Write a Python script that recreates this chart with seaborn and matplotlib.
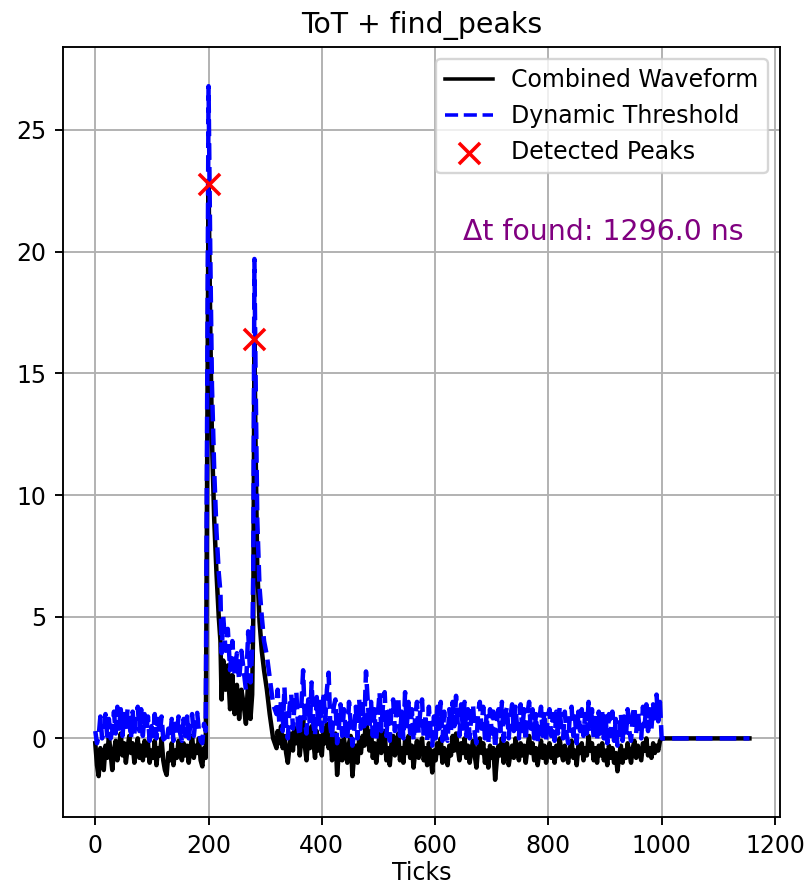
import numpy as np
import pandas as pd
import matplotlib
matplotlib.use("Agg")
import matplotlib.pyplot as plt
import seaborn as sns

# ---------------- data ----------------
pre_ticks = list(range(0, 198, 3))
pre_wave = [-0.2, -1.1, -1.55, -0.4, -0.9, -1.3, -0.3, -0.8, 0.1, -0.6,
            -1.3, -0.5, -0.1, -0.9, -0.3, 0.2, -0.7, -0.2, -1.0, -0.4,
            0.1, -0.6, -0.2, -1.0, -0.5, 0.0, -0.8, -0.3, -0.9, -0.1,
            -0.7, -0.2, -1.0, -0.5, -0.8, -0.1, -1.1, -0.4, -0.7, 0.0,
            -0.9, -1.3, -1.5, -0.6, -0.9, -0.2, -1.1, -0.5, -0.8, -0.1,
            -0.6, -0.9, -0.2, -0.7, -0.3, -1.0, -0.4, 0.1, -0.8, -0.3,
            -0.6, 0.0, -0.9, -1.15, -0.4, -0.8]
pre_thr = [0.3, -0.2, 0.1, 0.9, 0.0, 0.4, 1.0, 0.1, 0.8, 0.0,
           0.3, 1.1, 0.2, 1.3, 0.4, 1.2, 0.1, 1.0, 0.3, 1.2,
           0.8, 0.0, 1.1, 0.2, 0.9, 1.3, 0.3, 1.2, 0.1, 1.0,
           0.3, 0.9, -0.1, 0.5, 0.1, 1.0, 0.0, 0.8, 0.2, 0.9,
           0.0, -0.1, -0.2, 0.4, 0.0, 0.8, -0.1, 0.6, 0.1, 0.9,
           0.2, -0.1, 0.8, 0.1, 0.9, 0.0, 0.6, 1.0, 0.1, 0.8,
           1.05, 0.3, -0.1, -0.2, 0.6, 0.3]

pulse_ticks = [200, 203, 206, 210, 214, 218, 221, 223, 226, 230, 234, 238, 242, 246,
               250, 254, 258, 262, 266, 270, 274, 277, 279, 281, 283, 286, 290, 294,
               298, 303, 308, 314, 320]
pulse_wave = [22.8, 17.0, 12.3, 9.0, 6.8, 5.0, 4.0, 1.6, 3.2, 2.0,
              3.0, 1.2, 2.6, 1.0, 2.2, 0.8, 2.0, 1.4, 0.6, 2.4,
              0.8, 1.8, 5.0, 16.4, 12.0, 7.0, 4.8, 3.6, 2.8, 2.0,
              1.0, 0.0, -0.4]
pulse_thr = [26.8, 20.0, 14.5, 11.0, 8.5, 6.8, 6.0, 3.5, 5.0, 3.6,
             4.5, 2.8, 4.0, 2.6, 3.5, 2.4, 3.6, 2.8, 2.0, 4.4,
             2.3, 3.6, 7.0, 19.7, 15.0, 9.0, 6.2, 5.0, 4.0, 3.4,
             2.5, 1.4, 1.0]

post_ticks = list(range(322, 1001, 3))
post_wave = [0.3, -0.2, 0.5, -0.4, 0.1, -0.6, -1.0, -0.3, 0.2, -0.5,
             0.4, -0.2, 0.6, -0.7, 0.0, 0.8, -0.3, -0.9, 0.2, -0.4,
             0.5, -0.1, -0.8, 0.3, -0.5, 0.1, -0.7, 0.4, -0.2, 0.6,
             -0.4, 0.1, -0.9, -0.3, 0.2, -1.5, -0.6, -0.1, -0.9, 0.0,
             -0.5, -1.0, -0.2, 0.1, -1.55, -0.7, -0.3, -1.0, 0.0, -0.6,
             0.1, -0.3, 0.9, 0.2, -0.5, 0.3, -0.8, -0.2, -1.0, -0.4,
             0.2, -0.6, -0.1, 0.3, -0.9, -0.4, -1.1, -0.2, 0.1, -0.7,
             -0.3, 0.2, -0.9, -0.4, -1.0, -0.1, -0.6, 0.1, -0.8, -0.3,
             -1.2, -0.5, -0.1, -0.8, -0.3, 0.0, -0.9, -0.4, -1.1, -0.2,
             -0.7, -1.4, -0.5, -0.9, -0.2, -0.6, 0.0, -1.0, -0.4, -0.8,
             -1.1, -0.3, -0.7, 0.1, -0.5, 0.2, -0.4, -0.9, -0.2, -0.6,
             0.0, -0.8, -0.3, -1.0, -0.5, -0.1, -0.7, -1.2, -0.4, 0.0,
             -0.6, -0.2, -1.0, -0.5, -1.2, -0.3, -0.8, -0.4, -1.7, -0.9,
             -0.3, -0.7, 0.0, -1.0, -0.5, -0.2, -1.1, -0.6, -0.3, -0.8,
             0.0, -0.5, -0.9, -0.2, -0.7, -0.3, -1.0, -0.4, 0.1, -0.6,
             -0.2, -0.9, -0.4, -1.1, -0.6, -0.1, -0.8, -0.3, -1.0, -0.5,
             -0.2, -0.8, -0.4, -1.0, -0.3, -0.7, 0.0, -0.6, -0.9, -0.3,
             -0.7, -1.0, -0.4, -0.1, -0.8, -0.5, -1.1, -0.3, -0.6, -0.2,
             -0.9, -0.4, -0.7, 0.1, -0.5, -0.2, -0.9, -0.4, -1.0, -0.3,
             -0.7, -0.2, -0.9, -0.5, -1.1, -0.3, -0.8, -0.4, -1.0, -0.6,
             -1.35, -0.7, -0.3, -1.0, -0.5, -0.8, -0.2, -0.6, -1.0, -0.4,
             -0.1, -0.8, -0.3, -0.6, -0.9, -0.2, -0.5, 0.0, -0.7, -0.4,
             -0.8, -0.2, -0.6, -0.3, -0.5, -0.1, 0.0]
post_thr = [2.0, 0.6, 1.6, 0.3, 2.1, 0.5, 0.0, 1.3, 1.8, 0.4,
            1.5, 1.9, 0.5, 0.1, 1.4, 2.8, 0.7, 0.2, 1.6, 0.5,
            2.3, 0.6, 0.1, 1.7, 0.4, 1.5, 0.3, 1.9, 0.7, 2.0,
            2.7, 0.5, 0.0, 1.3, 1.6, -0.2, 0.4, 1.4, 0.1, 1.2,
            0.3, -0.1, 1.5, 0.6, -0.3, 0.2, 1.3, 0.0, 1.6, 0.4,
            1.4, 0.5, 2.75, 1.6, 0.4, 1.5, 0.1, 1.2, -0.1, 1.0,
            1.9, 0.3, 1.4, 1.9, 0.1, 1.1, -0.1, 1.3, 1.6, 0.3,
            1.2, 1.7, 0.1, 1.1, 0.0, 1.9, 0.5, 1.5, 0.2, 1.2,
            -0.1, 0.9, 1.5, 0.2, 1.2, 1.6, 0.0, 1.0, -0.1, 1.3,
            0.3, -0.3, 0.9, 0.0, 1.3, 0.4, 1.5, -0.1, 1.1, 0.1,
            -0.1, 1.2, 0.3, 1.5, 0.5, 1.75, 0.6, 0.1, 1.4, 0.4,
            1.5, 0.1, 1.2, 0.0, 1.0, 1.4, 0.2, -0.2, 1.1, 1.5,
            0.4, 1.3, 0.0, 1.0, -0.2, 1.2, 0.2, 1.1, -0.4, 0.6,
            1.2, 0.3, 1.5, -0.1, 1.0, 1.3, 0.0, 0.9, 1.4, 0.3,
            1.3, 0.4, 0.0, 1.4, 0.3, 1.2, -0.1, 1.0, 1.5, 0.4,
            1.2, 0.0, 1.0, -0.2, 0.8, 1.3, 0.1, 1.1, -0.1, 0.9,
            1.2, 0.1, 1.0, -0.1, 1.1, 0.2, 1.3, 0.3, 0.0, 1.1,
            0.2, -0.2, 1.0, 1.3, 0.1, 0.9, -0.2, 1.1, 0.3, 1.2,
            0.1, 1.0, 0.2, 1.5, 0.4, 1.2, 0.0, 1.0, -0.1, 1.1,
            0.2, 1.1, 0.0, 0.9, -0.2, 1.0, 0.1, 1.1, -0.1, 0.8,
            -0.3, 0.1, 1.0, -0.1, 0.9, 0.1, 1.2, 0.3, -0.1, 1.0,
            1.3, 0.2, 1.1, 0.4, 0.0, 1.3, 0.5, 1.4, 0.3, 1.2,
            0.4, 1.4, 0.6, 1.8, 0.7, 1.5, 0.0]

tail_ticks = [1155]
tail_wave = [0.0]
tail_thr = [0.0]

peak_ticks = [200, 281]
peak_values = [22.8, 16.4]

delta_t_text = "\u0394t found: 1296.0 ns"
title_text = "ToT + find_peaks"
x_label = "Ticks"

# ---------------- assemble ----------------
ticks = pre_ticks + pulse_ticks + post_ticks + tail_ticks
wave = pre_wave + pulse_wave + post_wave + tail_wave
thr = pre_thr + pulse_thr + post_thr + tail_thr
assert len(ticks) == len(wave) == len(thr), (len(ticks), len(wave), len(thr))

df = pd.DataFrame({"tick": ticks, "wave": wave, "thr": thr})
peaks = pd.DataFrame({"tick": peak_ticks, "val": peak_values})

# ---------------- plot ----------------
DPI = 170
fig = plt.figure(figsize=(804 / DPI, 886 / DPI), dpi=DPI)
ax = fig.add_axes([63 / 804, 1 - 817 / 886, (780 - 63) / 804, (817 - 47) / 886])

sns.lineplot(data=df, x="tick", y="wave", estimator=None, sort=False,
             color="black", linewidth=1.9, label="Combined Waveform", ax=ax)
sns.lineplot(data=df, x="tick", y="thr", estimator=None, sort=False,
             color="blue", linewidth=1.9, linestyle="--",
             label="Dynamic Threshold", ax=ax)
sns.scatterplot(data=peaks, x="tick", y="val", marker="x", color="red",
                s=80, linewidth=1.5, label="Detected Peaks", ax=ax, zorder=5)

ax.set_xlim(-57, 1209)
ax.set_ylim(-3.23, 28.41)
ax.set_xticks([0, 200, 400, 600, 800, 1000, 1200])
ax.set_yticks([0, 5, 10, 15, 20, 25])
ax.grid(True)
ax.set_axisbelow(True)
ax.set_title(title_text, fontsize=12)
ax.set_xlabel(x_label, fontsize=10, labelpad=1.5)
ax.set_ylabel("")
ax.text(0.753, 0.76, delta_t_text, transform=ax.transAxes, color="purple",
        fontsize=12, ha="center", va="center")
leg = ax.legend(loc="upper right", fontsize=10)
for h in leg.legend_handles:
    if hasattr(h, "set_linewidth"):
        h.set_linewidth(1.5)

fig.savefig("out.png", dpi=DPI)
